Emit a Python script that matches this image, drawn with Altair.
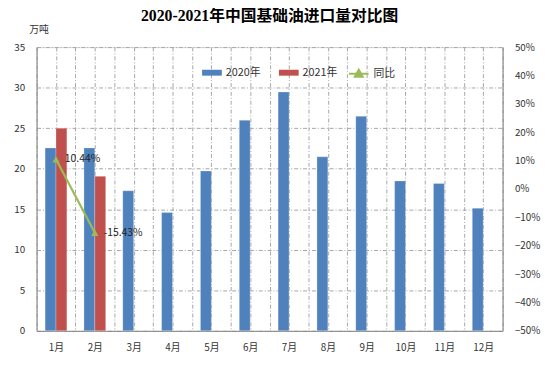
import altair as alt
import pandas as pd

months = list(range(1, 13))
vol_2020 = [22.56, 22.56, 17.27, 14.59, 19.71, 25.97, 29.46, 21.46, 26.46, 18.49, 18.17, 15.12]
vol_2021 = [25.0, 19.06]
yoy_months = [1, 2]
yoy = [0.1044, -0.1543]
yoy_labels = ["10.44%", "-15.43%"]

FONT = "Noto Sans CJK SC"

bars = pd.DataFrame(
    [{"month": m, "series": "2020年", "value": v} for m, v in zip(months, vol_2020)]
    + [{"month": m, "series": "2021年", "value": v} for m, v in zip(months, vol_2021)]
)
line_df = pd.DataFrame({"month": yoy_months, "yoy": yoy, "label": yoy_labels, "s": ["同比"] * 2})

BW = 0.28
xscale = alt.Scale(domain=[0.5, 12.5], nice=False, zero=False)
half_ticks = [0.5 + 0.5 * i for i in range(25)]

x_axis = alt.Axis(values=half_ticks, title=None, grid=True, ticks=False,
                  labelExpr="datum.value % 1 == 0 ? datum.value + '月' : ''",
                  labelOverlap=False, tickCount=25,
                  gridDash=[4, 2, 1, 2], gridColor="#a6a6a6",
                  domainColor="#868686", labelFont=FONT, labelFontSize=10,
                  labelColor="#333333", labelPadding=12, labelFlush=False)

bar_layer = alt.Chart(bars).transform_calculate(
    x0=f"datum.series == '2020年' ? datum.month - {BW} : datum.month",
    x1=f"datum.series == '2020年' ? datum.month : datum.month + {BW}",
).mark_bar(stroke="#ffffff", strokeWidth=0.5, strokeOpacity=0.5).encode(
    x=alt.X("x0:Q", scale=xscale, axis=x_axis),
    x2="x1:Q",
    y=alt.Y("value:Q", scale=alt.Scale(domain=[0, 35], nice=False),
            axis=alt.Axis(values=[0, 5, 10, 15, 20, 25, 30, 35], grid=True, ticks=False,
                          gridDash=[4, 2, 1, 2], gridColor="#a6a6a6",
                          domainColor="#868686", labelFont=FONT, labelFontSize=10,
                          labelColor="#333333", labelPadding=12,
                          title="万吨", titleAngle=0, titleAlign="center",
                          titleBaseline="middle", titleX=2, titleY=-18,
                          titleFont=FONT, titleFontSize=10, titleFontWeight="normal",
                          titleColor="#333333")),
    y2=alt.datum(0),
    color=alt.Color("series:N",
                    scale=alt.Scale(domain=["2020年", "2021年"], range=["#4f81bd", "#c0504d"]),
                    legend=alt.Legend(title=None, orient="none", direction="horizontal",
                                      legendX=168, legendY=16,
                                      symbolType="M-1,-0.3H1V0.3H-1Z", symbolSize=400,
                                      symbolStrokeWidth=0, columnPadding=18,
                                      labelFont=FONT, labelFontSize=11, labelColor="#333333")),
)

yr = alt.Scale(domain=[-0.5, 0.5], nice=False)
line_base = alt.Chart(line_df).encode(
    x=alt.X("month:Q", scale=xscale, axis=x_axis),
    y=alt.Y("yoy:Q", scale=yr,
            axis=alt.Axis(orient="right", format=".0%", values=[-0.5 + 0.1 * i for i in range(11)],
                          grid=False, ticks=False, domainColor="#868686",
                          labelFont=FONT, labelFontSize=10, labelColor="#333333",
                          labelPadding=12, title=None)),
)
line = line_base.mark_line(strokeWidth=2.25).encode(
    stroke=alt.Stroke("s:N", scale=alt.Scale(domain=["同比"], range=["#9bbb59"]),
                      legend=alt.Legend(title=None, orient="none", legendX=316, legendY=16,
                                        symbolType="M-1,0H1M0,-0.4L0.4,0.3L-0.4,0.3Z",
                                        symbolSize=400, symbolStrokeWidth=2,
                                        symbolFillColor="#9bbb59",
                                        labelFont=FONT, labelFontSize=11, labelColor="#333333"))
)
pts = line_base.mark_point(shape="triangle-up", filled=True, size=55, color="#9bbb59", opacity=1)
txt = line_base.mark_text(align="left", baseline="middle", dx=9, fontSize=10.5, font=FONT,
                          color="#222222").encode(text="label:N")

chart = alt.layer(bar_layer, alt.layer(line, pts, txt)).resolve_scale(
    y="independent", color="independent", stroke="independent"
).properties(
    width=473, height=288,
    padding={"left": 29, "top": 37, "right": 40, "bottom": 32},
    autosize=alt.AutoSizeParams(type="none"),
    title=alt.TitleParams("2020-2021年中国基础油进口量对比图", font="Liberation Serif, Noto Sans CJK SC",
                          fontSize=16, fontWeight="bold", color="#000000",
                          anchor="middle", frame="group", offset=0, dy=0),
).configure_view(stroke=None).configure(background="#ffffff")

chart.save("out.html", embed_options={"renderer": "svg", "actions": False})
